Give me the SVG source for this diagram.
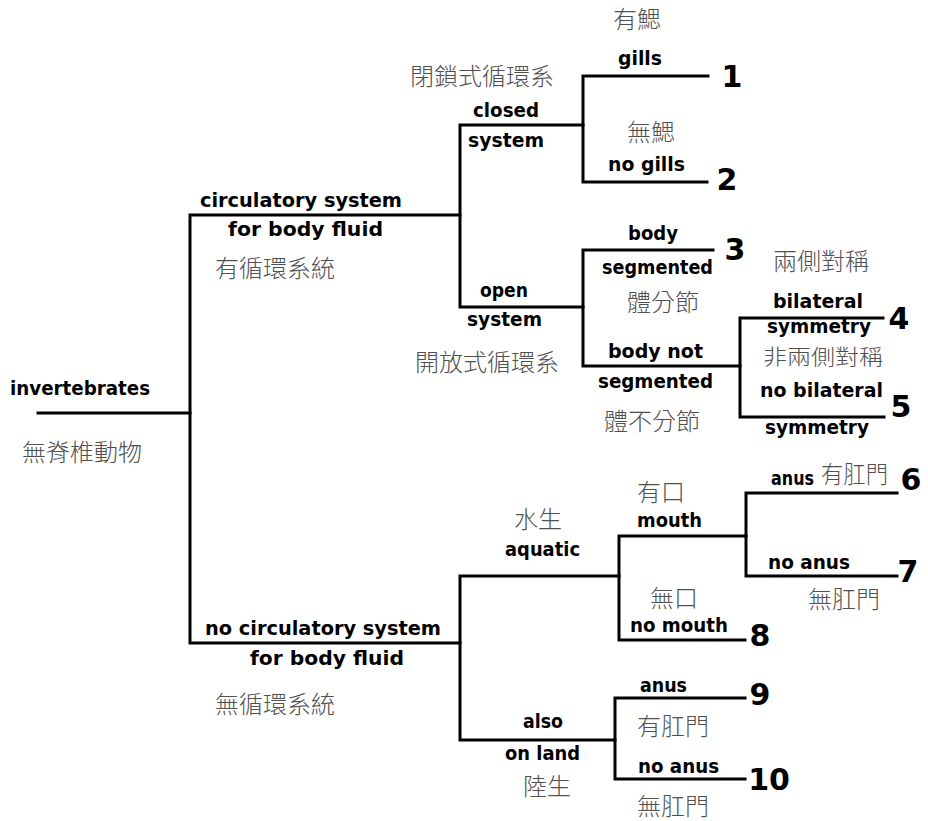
<svg xmlns="http://www.w3.org/2000/svg" width="928" height="821" viewBox="0 0 928 821">
<style>
.en{font-family:"DejaVu Sans","Liberation Sans",sans-serif;font-weight:bold;font-size:20px;fill:#000}
.zh{font-family:"Noto Sans CJK TC","Noto Sans CJK SC",sans-serif;font-weight:300;font-size:24px;fill:#505050}
.num{font-family:"DejaVu Sans","Liberation Sans",sans-serif;font-weight:bold;font-size:30px;fill:#000;text-anchor:middle}
.ln{fill:none;stroke:#000;stroke-width:3;stroke-linecap:square;stroke-linejoin:miter}
</style>
<rect width="928" height="821" fill="#fff"/>
<g id="connectors" class="ln">
<path d="M38 413 H190"/>
<path d="M460 215 H190 V643 H460"/>
<path d="M583 125 H460 V307 H583"/>
<path d="M708 76 H583 V182 H707"/>
<path d="M713 250 H583 V366 H740"/>
<path d="M883 318 H740 V417 H884"/>
<path d="M619 576 H460 V740 H615"/>
<path d="M746 536 H619 V640 H745"/>
<path d="M897 493 H746 V576 H897"/>
<path d="M745 698 H615 V779 H745"/>
</g>
<g id="root">
<text class="en" x="10" y="395" textLength="140" lengthAdjust="spacingAndGlyphs">invertebrates</text>
<text class="zh" x="22" y="461">無脊椎動物</text>
</g>
<g id="circulatory">
<text class="en" x="200" y="207" textLength="202" lengthAdjust="spacingAndGlyphs">circulatory system</text>
<text class="en" x="228" y="236" textLength="155" lengthAdjust="spacingAndGlyphs">for body fluid</text>
<text class="zh" x="215" y="277">有循環系統</text>
</g>
<g id="closed">
<text class="zh" x="410" y="85">閉鎖式循環系</text>
<text class="en" x="473" y="117" textLength="66" lengthAdjust="spacingAndGlyphs">closed</text>
<text class="en" x="468" y="147" textLength="76" lengthAdjust="spacingAndGlyphs">system</text>
</g>
<g id="gills">
<text class="zh" x="613" y="28">有鰓</text>
<text class="en" x="618" y="65" textLength="44" lengthAdjust="spacingAndGlyphs">gills</text>
<text class="num" x="732" y="87">1</text>
</g>
<g id="nogills">
<text class="zh" x="627" y="141">無鰓</text>
<text class="en" x="608" y="171" textLength="77" lengthAdjust="spacingAndGlyphs">no gills</text>
<text class="num" x="727" y="190">2</text>
</g>
<g id="open">
<text class="en" x="480" y="297" textLength="48" lengthAdjust="spacingAndGlyphs">open</text>
<text class="en" x="467" y="326" textLength="75" lengthAdjust="spacingAndGlyphs">system</text>
<text class="zh" x="415" y="371">開放式循環系</text>
</g>
<g id="segmented">
<text class="en" x="628" y="240" textLength="50" lengthAdjust="spacingAndGlyphs">body</text>
<text class="en" x="602" y="274" textLength="111" lengthAdjust="spacingAndGlyphs">segmented</text>
<text class="zh" x="627" y="311">體分節</text>
<text class="num" x="735" y="260">3</text>
</g>
<g id="notsegmented">
<text class="en" x="608" y="358" textLength="95" lengthAdjust="spacingAndGlyphs">body not</text>
<text class="en" x="598" y="388" textLength="115" lengthAdjust="spacingAndGlyphs">segmented</text>
<text class="zh" x="604" y="430">體不分節</text>
</g>
<g id="bilateral">
<text class="zh" x="773" y="270">兩側對稱</text>
<text class="en" x="773" y="308" textLength="90" lengthAdjust="spacingAndGlyphs">bilateral</text>
<text class="en" x="767" y="333" textLength="104" lengthAdjust="spacingAndGlyphs">symmetry</text>
<text class="num" x="899" y="329">4</text>
</g>
<g id="nobilateral">
<text class="zh" x="763" y="364" style="font-size:21px" textLength="120" lengthAdjust="spacingAndGlyphs">非兩側對稱</text>
<text class="en" x="760" y="397" textLength="123" lengthAdjust="spacingAndGlyphs">no bilateral</text>
<text class="en" x="765" y="434" textLength="104" lengthAdjust="spacingAndGlyphs">symmetry</text>
<text class="num" x="901" y="417">5</text>
</g>
<g id="nocirculatory">
<text class="en" x="205" y="635" textLength="236" lengthAdjust="spacingAndGlyphs">no circulatory system</text>
<text class="en" x="250" y="665" textLength="154" lengthAdjust="spacingAndGlyphs">for body fluid</text>
<text class="zh" x="215" y="713">無循環系統</text>
</g>
<g id="aquatic">
<text class="zh" x="514" y="528">水生</text>
<text class="en" x="505" y="556" textLength="75" lengthAdjust="spacingAndGlyphs">aquatic</text>
</g>
<g id="mouth">
<text class="zh" x="637" y="501">有口</text>
<text class="en" x="637" y="527" textLength="65" lengthAdjust="spacingAndGlyphs">mouth</text>
</g>
<g id="anus6">
<text class="en" x="771" y="485" textLength="43" lengthAdjust="spacingAndGlyphs">anus</text>
<text class="zh" x="821" y="483" textLength="67" lengthAdjust="spacingAndGlyphs">有肛門</text>
<text class="num" x="911" y="490">6</text>
</g>
<g id="noanus7">
<text class="en" x="768" y="569" textLength="82" lengthAdjust="spacingAndGlyphs">no anus</text>
<text class="zh" x="808" y="608">無肛門</text>
<text class="num" x="908" y="582">7</text>
</g>
<g id="nomouth">
<text class="zh" x="650" y="607">無口</text>
<text class="en" x="630" y="632" textLength="98" lengthAdjust="spacingAndGlyphs">no mouth</text>
<text class="num" x="760" y="646">8</text>
</g>
<g id="land">
<text class="en" x="523" y="728" textLength="40" lengthAdjust="spacingAndGlyphs">also</text>
<text class="en" x="505" y="760" textLength="75" lengthAdjust="spacingAndGlyphs">on land</text>
<text class="zh" x="523" y="795">陸生</text>
</g>
<g id="anus9">
<text class="en" x="640" y="692" textLength="47" lengthAdjust="spacingAndGlyphs">anus</text>
<text class="zh" x="637" y="735">有肛門</text>
<text class="num" x="760" y="705">9</text>
</g>
<g id="noanus10">
<text class="en" x="638" y="773" textLength="81" lengthAdjust="spacingAndGlyphs">no anus</text>
<text class="zh" x="637" y="815">無肛門</text>
<text class="num" x="769" y="790">10</text>
</g>
</svg>
